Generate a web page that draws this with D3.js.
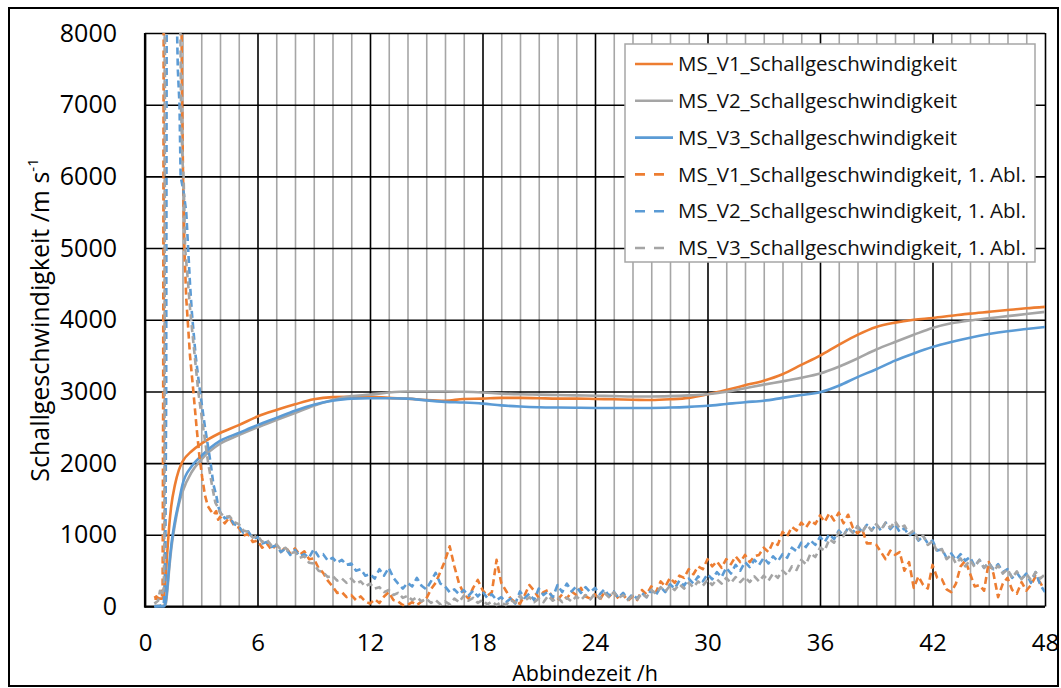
<!DOCTYPE html>
<html>
<head>
<meta charset="utf-8">
<script src="https://cdn.jsdelivr.net/npm/d3@7"></script>
<style>
  body { margin: 0; background: #fff; }
  svg { display: block; font-family: "Open Sans", sans-serif; }
</style>
</head>
<body>
<svg width="1061" height="688"></svg>
<script>
// Zeitpunkte der geglaetteten Schallgeschwindigkeit (h)
const solidHours = [0.5, 0.9, 1.0, 1.1, 1.2, 1.3, 1.4, 1.6, 1.8, 2, 2.5, 3,
  4, 5, 6, 7, 8, 9, 10, 11, 12, 13, 14, 15, 16, 17, 18, 19, 20, 21, 22, 23, 24,
  25, 26, 27, 28, 29, 30, 31, 32, 33, 34, 35, 36, 37, 38, 39, 40, 41, 42, 43, 44,
  45, 46, 47, 48];

const v1Speed = [110, 110, 150, 400, 800, 1150, 1400, 1700, 1900, 2020, 2170, 2270,
  2420, 2530, 2650, 2740, 2820, 2890, 2920, 2925, 2925, 2910, 2900, 2880, 2870, 2895,
  2900, 2910, 2910, 2905, 2900, 2900, 2895, 2890, 2885, 2880, 2890, 2910, 2960, 3020,
  3085, 3150, 3240, 3370, 3500, 3650, 3790, 3900, 3960, 4000, 4025, 4055, 4085, 4110,
  4135, 4160, 4180];
const v2Speed = [10, 10, 10, 30, 250, 550, 800, 1150, 1420, 1600, 1880, 2050,
  2270, 2390, 2500, 2600, 2700, 2800, 2880, 2935, 2955, 2985, 3000, 3000, 3000, 2995,
  2985, 2970, 2960, 2955, 2950, 2945, 2940, 2935, 2930, 2930, 2935, 2945, 2960, 2995,
  3045, 3095, 3140, 3190, 3250, 3345, 3460, 3585, 3690, 3790, 3885, 3950, 3990, 4020,
  4050, 4080, 4110];
const v3Speed = [0, 0, 0, 60, 300, 600, 850, 1200, 1450, 1700, 1960, 2100,
  2310, 2420, 2530, 2630, 2730, 2815, 2870, 2900, 2905, 2905, 2900, 2875, 2855, 2845,
  2830, 2805, 2790, 2780, 2775, 2772, 2770, 2770, 2770, 2770, 2775, 2785, 2800, 2825,
  2850, 2870, 2910, 2950, 2990, 3080, 3200, 3310, 3430, 3530, 3620, 3690, 3750, 3800,
  3840, 3870, 3900];

// 1. Ableitung: Anfangsbereich mit Peak (t, Wert)
const v1AblEarly = [[0.5, 120], [0.6, 140], [0.7, 110], [0.8, 130], [0.9, 120], [0.94, 300],
  [0.97, 3000], [1.0, 9000], [1.93, 9000], [1.97, 7200], [2.03, 6000], [2.1, 5000], [2.2, 4300],
  [2.4, 3500], [2.58, 3000], [2.75, 2500], [2.9, 2100], [3.05, 1800], [3.2, 1550], [3.35, 1400],
  [3.5, 1340], [3.65, 1280], [3.8, 1330], [3.9, 1210]];
const v2AblEarly = [[0.5, 0], [0.8, 10], [1.0, 30], [1.08, 400], [1.13, 3000], [1.16, 9000],
  [1.64, 9000], [1.75, 7500], [1.84, 7000], [1.9, 6000], [2.05, 5800], [2.2, 5500], [2.3, 5000],
  [2.4, 4500], [2.5, 4100], [2.7, 3500], [2.93, 3000], [3.2, 2500], [3.5, 2000], [3.65, 1700],
  [3.8, 1550], [3.9, 1400]];
const v3AblEarly = [[0.5, 40], [0.7, 80], [0.8, 220], [0.9, 150], [1.0, 260], [1.04, 1200],
  [1.07, 9000], [1.86, 9000], [1.92, 7000], [2.0, 6200], [2.06, 6000], [2.14, 5000], [2.3, 4500],
  [2.42, 4100], [2.65, 3500], [2.84, 3000], [3.1, 2500], [3.37, 2000], [3.6, 1650], [3.75, 1450],
  [3.9, 1380]];

// 1. Ableitung ab 4 h, alle 0,25 h
const ablHours = d3.range(4, 48.01, 0.25);
const v1Abl = [
  1250, 1160, 1240, 1130, 1100, 990, 1010, 900, 920, 820, 880, 790, 860, 760, 830, 740,
  810, 720, 770, 660, 670, 540, 470, 360, 280, 190, 200, 130, 160, 90, 140, 70,
  40, 100, 50, 140, 200, 90, 70, 20, 20, 60, 20, 70, 110, 240, 330, 480,
  640, 840, 560, 320, 180, 110, 260, 370, 230, 150, 200, 650, 330, 220, 110, 60,
  40, 160, 300, 220, 120, 200, 230, 120, 90, 170, 110, 210, 160, 260, 140, 110,
  170, 90, 200, 140, 200, 110, 170, 80, 140, 90, 230, 170, 280, 200, 350, 280,
  400, 330, 430, 400, 520, 450, 560, 520, 660, 560, 630, 540, 660, 590, 700, 620,
  720, 620, 700, 720, 820, 760, 900, 860, 1040, 980, 1110, 1060, 1170, 1100, 1200, 1150,
  1270, 1180, 1300, 1200, 1310, 1160, 1280, 1100, 1020, 1080, 880, 880, 860, 760, 660, 780,
  720, 760, 500, 620, 260, 420, 300, 250, 580, 400, 380, 240, 200, 320, 560, 640,
  460, 280, 300, 220, 620, 460, 130, 320, 400, 230, 180, 340, 220, 300, 420, 330,
  220];
const v2Abl = [
  1320, 1230, 1250, 1150, 1120, 1030, 1050, 950, 970, 880, 900, 830, 850, 760, 810, 720,
  790, 700, 730, 680, 800, 700, 730, 640, 680, 610, 650, 580, 600, 500, 520, 430,
  450, 390, 520, 430, 540, 400, 320, 250, 330, 280, 400, 290, 240, 350, 470, 320,
  280, 200, 240, 170, 230, 150, 220, 140, 210, 120, 170, 90, 130, 60, 110, 40,
  210, 120, 180, 90, 250, 160, 210, 130, 300, 200, 320, 210, 280, 190, 270, 200,
  260, 170, 240, 150, 210, 120, 190, 100, 170, 110, 190, 130, 230, 160, 270, 200,
  310, 250, 360, 290, 390, 320, 420, 350, 450, 380, 480, 410, 540, 460, 580, 500,
  620, 550, 650, 580, 680, 600, 700, 630, 730, 680, 820, 770, 890, 830, 920, 860,
  970, 900, 1010, 940, 1060, 990, 1100, 1030, 1120, 1040, 1140, 1060, 1150, 1060, 1170, 1080,
  1150, 1040, 1090, 990, 1030, 920, 980, 880, 920, 780, 800, 680, 740, 650, 730, 640,
  690, 560, 650, 540, 610, 520, 590, 480, 520, 400, 470, 380, 460, 330, 480, 300,
  200];
const v3Abl = [
  1310, 1250, 1260, 1180, 1150, 1060, 1040, 960, 990, 900, 930, 850, 870, 790, 820, 740,
  760, 680, 700, 610, 600, 500, 480, 410, 430, 360, 390, 330, 390, 320, 350, 280,
  320, 250, 270, 200, 230, 160, 190, 120, 150, 90, 130, 70, 110, 50, 90, 30,
  70, 30, 110, 60, 150, 80, 120, 50, 90, 30, 70, 20, 60, 20, 90, 50,
  150, 80, 130, 60, 110, 60, 150, 80, 130, 60, 120, 70, 140, 90, 160, 100,
  180, 110, 190, 130, 200, 120, 160, 90, 150, 100, 180, 130, 230, 180, 270, 210,
  290, 230, 310, 250, 330, 270, 350, 290, 370, 300, 380, 320, 400, 330, 410, 340,
  410, 340, 420, 350, 430, 360, 460, 400, 500, 440, 560, 510, 650, 590, 740, 690,
  820, 780, 940, 890, 1040, 980, 1100, 1030, 1120, 1040, 1140, 1060, 1150, 1070, 1170, 1100,
  1190, 1090, 1130, 1010, 1060, 930, 990, 860, 910, 760, 800, 660, 720, 600, 670, 560,
  650, 550, 650, 540, 610, 500, 570, 460, 520, 400, 490, 380, 460, 370, 480, 390,
  450];

const xTicks = [0, 6, 12, 18, 24, 30, 36, 42, 48];
const yTicks = [0, 1000, 2000, 3000, 4000, 5000, 6000, 7000, 8000];

const orange = "#ED7D31", grey = "#A5A5A5", blue = "#5B9BD5";

let svg = d3.select("svg");

let x = d3.scaleLinear().domain([0, 48]).range([145, 1045]);
let y = d3.scaleLinear().domain([0, 8000]).range([606.5, 33]);

// outer frame
svg.append("rect")
  .attr("x", 9).attr("y", 8).attr("width", 1049).attr("height", 678)
  .attr("fill", "none").attr("stroke", "#000").attr("stroke-width", 2);

// minor grid (every hour)
let minor = d3.range(1, 48).filter(d => d % 6 !== 0);
svg.append("g")
  .attr("transform", "translate(0,606.5)")
  .call(d3.axisBottom(x).tickValues(minor).tickSize(-(606.5 - 33)).tickFormat(""))
  .call(g => g.select(".domain").remove())
  .selectAll("line").attr("stroke", "#a6a6a6").attr("stroke-width", 1.6);

// major grid
svg.append("g")
  .attr("transform", "translate(0,606.5)")
  .call(d3.axisBottom(x).tickValues(xTicks).tickSize(-(606.5 - 33)).tickFormat(""))
  .call(g => g.select(".domain").remove())
  .selectAll("line").attr("stroke", "#000").attr("stroke-width", 1.6);

svg.append("g")
  .attr("transform", "translate(145,0)")
  .call(d3.axisLeft(y).tickValues(yTicks).tickSize(-900).tickFormat(""))
  .call(g => g.select(".domain").remove())
  .selectAll("line").attr("stroke", "#000").attr("stroke-width", 1.6);

// axis lines
svg.append("line").attr("x1", 145).attr("x2", 145).attr("y1", 33).attr("y2", 607.5)
  .attr("stroke", "#000").attr("stroke-width", 2.2);
svg.append("line").attr("x1", 144).attr("x2", 1045).attr("y1", 606.5).attr("y2", 606.5)
  .attr("stroke", "#000").attr("stroke-width", 2.2);

// tick labels
svg.append("g")
  .attr("transform", "translate(145,0)")
  .call(d3.axisLeft(y).tickValues(yTicks).tickSize(0).tickPadding(28).tickFormat(d3.format("d")))
  .call(g => g.select(".domain").remove())
  .selectAll("text").attr("font-size", 25).attr("fill", "#000")
  .attr("font-family", "Open Sans");

svg.append("g")
  .attr("transform", "translate(0,606.5)")
  .call(d3.axisBottom(x).tickValues(xTicks).tickSize(0).tickPadding(27))
  .call(g => g.select(".domain").remove())
  .selectAll("text").attr("font-size", 24).attr("fill", "#000")
  .attr("font-family", "Open Sans");

// axis titles
svg.append("text")
  .attr("x", 585).attr("y", 681)
  .attr("text-anchor", "middle").attr("font-size", 21.5)
  .text("Abbindezeit /h");

let yt = svg.append("text")
  .attr("transform", "translate(49,320) rotate(-90)")
  .attr("text-anchor", "middle").attr("font-size", 25);
yt.append("tspan").text("Schallgeschwindigkeit /m s");
yt.append("tspan").attr("font-size", 15).attr("dy", -11).text("-1");

// series
svg.append("clipPath").attr("id", "plot")
  .append("rect").attr("x", 145).attr("y", 33).attr("width", 900).attr("height", 576);

let line = d3.line().x(d => x(d[0])).y(d => y(d[1]));
let smooth = d3.line().x(d => x(d[0])).y(d => y(d[1])).curve(d3.curveMonotoneX);

let series = [
  { name: "MS_V1_Schallgeschwindigkeit", color: orange, dash: false,
    pts: solidHours.map((h, i) => [h, v1Speed[i]]) },
  { name: "MS_V2_Schallgeschwindigkeit", color: grey, dash: false,
    pts: solidHours.map((h, i) => [h, v2Speed[i]]) },
  { name: "MS_V3_Schallgeschwindigkeit", color: blue, dash: false,
    pts: solidHours.map((h, i) => [h, v3Speed[i]]) },
  { name: "MS_V1_Schallgeschwindigkeit, 1. Abl.", color: orange, dash: true,
    pts: v1AblEarly.concat(ablHours.map((h, i) => [h, v1Abl[i]])) },
  { name: "MS_V2_Schallgeschwindigkeit, 1. Abl.", color: blue, dash: true,
    pts: v2AblEarly.concat(ablHours.map((h, i) => [h, v2Abl[i]])) },
  { name: "MS_V3_Schallgeschwindigkeit, 1. Abl.", color: grey, dash: true,
    pts: v3AblEarly.concat(ablHours.map((h, i) => [h, v3Abl[i]])) }
];

svg.append("g").attr("clip-path", "url(#plot)")
  .selectAll("path")
  .data(series)
  .enter().append("path")
  .attr("d", d => d.dash ? line(d.pts) : smooth(d.pts))
  .attr("fill", "none")
  .attr("stroke", d => d.color)
  .attr("stroke-width", 2.6)
  .attr("stroke-dasharray", d => d.dash ? "7,4" : null)
  .attr("stroke-linejoin", "round");

// legend
let legend = svg.append("g");
legend.append("rect")
  .attr("x", 625).attr("y", 44).attr("width", 410).attr("height", 218)
  .attr("fill", "#fff").attr("stroke", "#a6a6a6").attr("stroke-width", 1.5);

let item = legend.selectAll("g.item")
  .data(series)
  .enter().append("g")
  .attr("class", "item")
  .attr("transform", (d, i) => `translate(0,${64 + i * 36.8})`);

item.append("line")
  .attr("x1", 635).attr("x2", 673)
  .attr("stroke", d => d.color).attr("stroke-width", 2.6)
  .attr("stroke-dasharray", d => d.dash ? "10,9" : null);

item.append("text")
  .attr("x", 678).attr("dy", "0.35em")
  .attr("font-size", 20.5).attr("fill", "#111")
  .text(d => d.name);
</script>
</body>
</html>
